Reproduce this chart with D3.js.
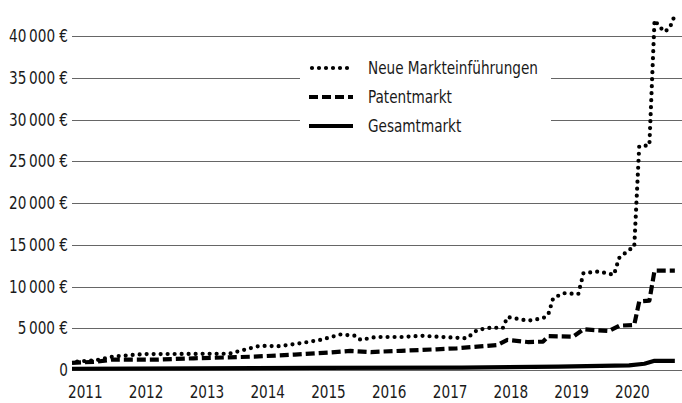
<!DOCTYPE html>
<html>
<head>
<meta charset="utf-8">
<script src="https://cdn.jsdelivr.net/npm/d3@7"></script>
<style>
  body { margin: 0; background: #fff; }
  svg text { font-family: "Liberation Sans Narrow", "DejaVu Sans Condensed", "Roboto", sans-serif; fill: #1a1a1a; }
</style>
</head>
<body>
<div id="chart"></div>
<script>
// series: dates (YYYY-MM) and values in euro
var neueDates = ["2011-02","2011-06","2011-09","2012-03","2013-08","2014-02","2014-06","2014-10","2015-02","2015-06","2015-09","2015-10","2016-01","2016-06","2016-10","2017-02","2017-07","2017-09","2017-12","2018-02","2018-03","2018-07","2018-10","2018-11","2018-12","2019-02","2019-05","2019-06","2019-09","2019-12","2020-01","2020-03","2020-04","2020-05","2020-07","2020-08","2020-09","2020-10","2020-11","2020-12"];
var neueValues = [1000,1200,1600,1900,1950,2900,2850,3200,3600,4250,4100,3600,3950,3950,4100,3950,3800,4800,5100,5000,6350,5900,6200,6600,8600,9200,9100,11600,11800,11400,13400,14400,14700,26800,26900,41900,41100,40500,41000,42500];

var patentDates = ["2011-01","2011-06","2011-09","2012-06","2013-01","2014-01","2014-09","2015-04","2015-08","2015-12","2016-06","2017-01","2017-05","2017-09","2018-01","2018-03","2018-07","2018-10","2018-11","2019-04","2019-06","2019-11","2020-01","2020-04","2020-05","2020-07","2020-08","2020-12"];
var patentValues = [850,1000,1250,1250,1400,1600,1850,2100,2280,2150,2300,2480,2600,2800,3000,3600,3350,3400,4050,4000,4870,4670,5300,5400,8200,8300,11900,11900];

var gesamtDates = ["2011-01","2013-01","2015-01","2017-06","2019-01","2020-03","2020-06","2020-08","2020-12"];
var gesamtValues = [150,200,250,280,400,550,750,1100,1100];

var yTicks = [0,5000,10000,15000,20000,25000,30000,35000,40000];
var xYears = [2011,2012,2013,2014,2015,2016,2017,2018,2019,2020];
var seriesNames = ["Neue Markteinführungen","Patentmarkt","Gesamtmarkt"];

var width = 682, height = 403;
var fs = 17, sx = 0.89; // condensed look
var svg = d3.select("#chart").append("svg")
  .attr("width", width)
  .attr("height", height);

var parse = d3.timeParse("%Y-%m");

var x = d3.scaleTime()
  .domain([new Date(2011, 0, 1), new Date(2021, 0, 1)])
  .range([72, 680]);

var y = d3.scaleLinear()
  .domain([0, 40000])
  .range([370, 36]);

function euro(v) {
  if (v === 0) return "0";
  var s = String(v);
  return s.slice(0, s.length - 3) + "\u2009" + s.slice(-3) + " €";
}

function place(px, py) {
  return "translate(" + px + "," + py + ") scale(" + sx + ",1)";
}

// grid lines
svg.append("g")
  .selectAll("line")
  .data(yTicks)
  .enter().append("line")
    .attr("x1", 72)
    .attr("x2", width)
    .attr("y1", function(d) { return Math.round(y(d)) + 0.5; })
    .attr("y2", function(d) { return Math.round(y(d)) + 0.5; })
    .attr("stroke", "#666")
    .attr("stroke-width", 1);

// y labels
svg.append("g")
  .selectAll("text")
  .data(yTicks)
  .enter().append("text")
    .attr("transform", function(d) { return place(68, y(d)); })
    .attr("dy", "0.36em")
    .attr("text-anchor", "end")
    .attr("font-size", fs)
    .text(euro);

// x labels
svg.append("g")
  .selectAll("text")
  .data(xYears)
  .enter().append("text")
    .attr("transform", function(d) { return place(x(new Date(d, 0, 1)) - 4, 398); })
    .attr("font-size", fs)
    .text(function(d) { return d; });

// legend
var styles = [
  {dash: "0,7", cap: "round", w: 4.2},
  {dash: "9,4", cap: "butt", w: 4.2},
  {dash: null, cap: "butt", w: 4.2}
];

svg.append("rect")
  .attr("x", 300).attr("y", 50)
  .attr("width", 251).attr("height", 92)
  .attr("fill", "#fff");

var legend = svg.append("g")
  .selectAll("g")
  .data(seriesNames)
  .enter().append("g")
    .attr("transform", function(d, i) { return "translate(0," + (68 + i * 29) + ")"; });

legend.append("line")
  .attr("x1", function(d, i) { return i == 0 ? 312 : 309; })
  .attr("x2", 353)
  .attr("stroke", "#000")
  .attr("stroke-width", function(d, i) { return styles[i].w; })
  .attr("stroke-dasharray", function(d, i) { return styles[i].dash; })
  .attr("stroke-linecap", function(d, i) { return styles[i].cap; });

legend.append("text")
  .attr("transform", place(368, 0))
  .attr("dy", "0.36em")
  .attr("font-size", fs)
  .text(function(d) { return d; });

// lines
var line = d3.line()
  .x(function(d) { return x(d.date); })
  .y(function(d) { return y(d.value); });

function pts(dates, values) {
  return dates.map(function(d, i) { return {date: parse(d), value: values[i]}; });
}

var data = [pts(neueDates, neueValues), pts(patentDates, patentValues), pts(gesamtDates, gesamtValues)];

svg.append("g")
  .selectAll("path")
  .data(data)
  .enter().append("path")
    .attr("d", line)
    .attr("fill", "none")
    .attr("stroke", "#000")
    .attr("stroke-width", function(d, i) { return styles[i].w; })
    .attr("stroke-dasharray", function(d, i) { return styles[i].dash; })
    .attr("stroke-linecap", function(d, i) { return styles[i].cap; })
    .attr("stroke-linejoin", "round");
</script>
</body>
</html>
